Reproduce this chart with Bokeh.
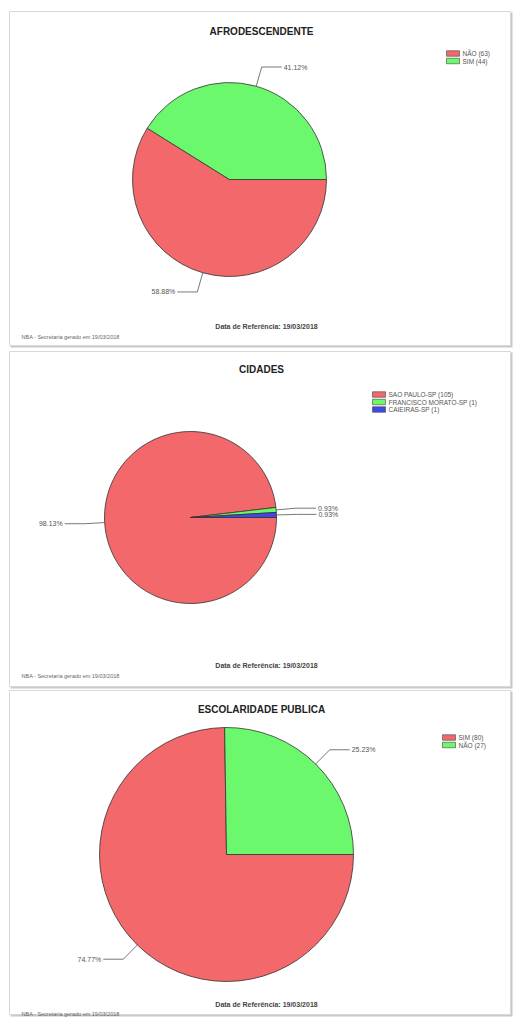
import numpy as np
from bokeh.plotting import figure
from bokeh.models import Range1d
from bokeh.core.properties import value
from bokeh.embed import file_html
from bokeh.resources import INLINE

# ---------------- data ----------------
titles = ["AFRODESCENDENTE", "CIDADES", "ESCOLARIDADE PUBLICA"]
afro_labels = ["NÃO", "SIM"]
afro_counts = [63, 44]
cid_labels = ["SAO PAULO-SP", "FRANCISCO MORATO-SP", "CAIEIRAS-SP"]
cid_counts = [105, 1, 1]
esc_labels = ["SIM", "NÃO"]
esc_counts = [80, 27]
ref_text = "Data de Referência: 19/03/2018"
gen_text = "NBA - Secretaria gerado em 19/03/2018"

RED = "#F2686B"
GREEN = "#6CF86C"
BLUE = "#4248E4"
colors_sets = [[RED, GREEN], [RED, GREEN, BLUE], [RED, GREEN]]

W, H = 514, 1018
OFF = 1
FONT = value("Liberation Sans")


def X(px):
    return px - OFF


def Y(py):
    return H - (py - OFF)


p = figure(width=W, height=H, output_backend="svg", toolbar_location=None,
           x_range=Range1d(0, W), y_range=Range1d(0, H), min_border=0)
p.axis.visible = False
p.grid.visible = False
p.outline_line_color = None
p.background_fill_color = "white"

# panel layout: (top, bottom), pie centre, radius, legend origin, footer y's
panels = [
    dict(top=12, bottom=346, cx=230, cy=180, r=97, lx=447, ly=54, title_y=32,
         ref_y=327, gen_y=337),
    dict(top=352, bottom=687, cx=191, cy=518, r=86, lx=373, ly=395, title_y=370,
         ref_y=666, gen_y=676),
    dict(top=691, bottom=1015, cx=227, cy=855, r=127, lx=443, ly=738, title_y=710,
         ref_y=1005, gen_y=1014),
]
datasets = [(afro_labels, afro_counts), (cid_labels, cid_counts), (esc_labels, esc_counts)]

for i, (pan, (labs, counts)) in enumerate(zip(panels, datasets)):
    cols = colors_sets[i]
    # panel frame with shadow
    p.quad(left=[X(11)], right=[X(513)], top=[Y(pan["top"] + 1)], bottom=[Y(pan["bottom"] + 2)],
           fill_color="#c8c8c8", line_color=None)
    p.quad(left=[X(10)], right=[X(511)], top=[Y(pan["top"])], bottom=[Y(pan["bottom"])],
           fill_color="white", line_color="#d8d8d8", line_width=1)

    # title
    p.text(x=[X(262)], y=[Y(pan["title_y"])], text=[titles[i]], text_font=FONT,
           text_font_style="bold", text_font_size="10px", text_align="center",
           text_baseline="middle", text_color="#222222")

    # pie
    counts_arr = np.array(counts, dtype=float)
    frac = counts_arr / counts_arr.sum()
    cum = np.cumsum(frac)
    prev = np.concatenate([[0], cum[:-1]])
    start = -2 * np.pi * cum
    end = -2 * np.pi * prev
    cx, cy, r = X(pan["cx"]), Y(pan["cy"]), pan["r"]
    p.wedge(x=[cx] * len(counts), y=[cy] * len(counts), radius=r,
            start_angle=list(start), end_angle=list(end),
            fill_color=cols, line_color="#333333", line_width=0.8)

    # leader lines and percentage labels
    mids = -2 * np.pi * (prev + cum) / 2
    for k, m in enumerate(mids):
        x0, y0 = cx + r * np.cos(m), cy + r * np.sin(m)
        x1, y1 = cx + (r + 20) * np.cos(m), cy + (r + 20) * np.sin(m)
        side = 1 if np.cos(m) >= 0 else -1
        x2 = x1 + side * 20
        p.line(x=[x0, x1, x2], y=[y0, y1, y1], line_color="#555555", line_width=0.8)
        p.text(x=[x2 + side * 2], y=[y1], text=["%.2f%%" % (frac[k] * 100)],
               text_font=FONT, text_font_size="7px", text_color="#555555",
               text_align="left" if side > 0 else "right", text_baseline="middle")

    # legend
    lx, ly = X(pan["lx"]), Y(pan["ly"])
    for k, lab in enumerate(labs):
        yy = ly - k * 7.5
        p.rect(x=[lx + 6.5], y=[yy], width=13, height=5.5, fill_color=cols[k],
               line_color="#444444", line_width=0.6)
        p.text(x=[lx + 16], y=[yy], text=["%s (%d)" % (lab, counts[k])], text_font=FONT,
               text_font_size="6.5px", text_color="#555555", text_align="left",
               text_baseline="middle")

    # footers
    p.text(x=[X(267)], y=[Y(pan["ref_y"])], text=[ref_text], text_font=FONT,
           text_font_style="bold", text_font_size="7px", text_color="#444444",
           text_align="center", text_baseline="middle")
    p.text(x=[X(22)], y=[Y(pan["gen_y"])], text=[gen_text], text_font=FONT,
           text_font_size="5.5px", text_color="#666666", text_align="left",
           text_baseline="middle")

open("out.html", "w").write(file_html(p, INLINE))
